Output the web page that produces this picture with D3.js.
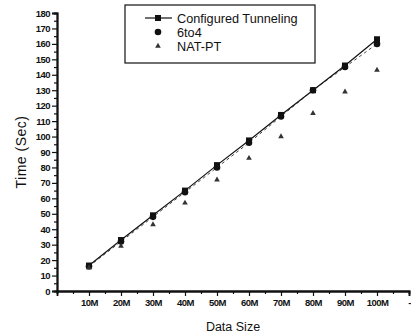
<!DOCTYPE html>
<html>
<head>
<meta charset="utf-8">
<script src="https://cdn.jsdelivr.net/npm/d3@7"></script>
<style>
  html, body { margin: 0; padding: 0; background: #fff; }
  svg { display: block; font-family: "Liberation Sans", Arial, sans-serif; }
</style>
</head>
<body>
<div id="chart"></div>
<script>
// data
const categories = ["10M", "20M", "30M", "40M", "50M", "60M", "70M", "80M", "90M", "100M"]
const tunneling = [16.5, 33, 49, 65, 81.5, 97.5, 114, 130, 146, 163]
const sixToFour = [16, 32, 48, 64, 80, 96, 113, 130, 145, 160]
const natPt = [15, 29, 43, 57, 72, 86, 100, 115, 129, 143]
const yTicks = [0, 10, 20, 30, 40, 50, 60, 70, 80, 90, 100, 110, 120, 130, 140, 150, 160, 170, 180]
const seriesNames = ["Configured Tunneling", "6to4", "NAT-PT"]

const width = 411, height = 333
const margin = { top: 13, right: 2, bottom: 42, left: 57 }
const innerW = width - margin.left - margin.right
const innerH = height - margin.top - margin.bottom

const svg = d3.select("#chart").append("svg")
  .attr("width", width).attr("height", height)

const g = svg.append("g").attr("transform", `translate(${margin.left},${margin.top})`)

// x is an index scale: 0 = origin, 1..10 = data sizes, 11 = trailing "-" tick
const x = d3.scaleLinear().domain([0, 11]).range([0, innerW])
const y = d3.scaleLinear().domain([0, 180]).range([innerH, 0])

const xLabels = [...categories, "-"]

// axes
const yAxis = d3.axisLeft(y).tickValues(yTicks).tickSize(5).tickPadding(2)
const yMinor = d3.axisLeft(y).tickValues(yTicks.slice(0, -1).map(v => v + 5)).tickSize(3).tickFormat("")
const xAxis = d3.axisBottom(x).tickValues(d3.range(1, 12)).tickSize(5).tickPadding(3)
  .tickFormat(i => xLabels[i - 1])
const xMinor = d3.axisBottom(x).tickValues(d3.range(0.5, 11, 1)).tickSize(3).tickFormat("")

g.append("g").call(yMinor)
g.append("g").call(yAxis)
g.append("g").attr("transform", `translate(0,${innerH})`).call(xMinor)
g.append("g").attr("transform", `translate(0,${innerH})`).call(xAxis)

g.selectAll(".domain").attr("stroke", "#111").attr("stroke-width", 1.8)
g.selectAll(".tick line").attr("stroke", "#111").attr("stroke-width", 1.2)
g.selectAll(".tick text").attr("fill", "#111").attr("font-size", "9.5px").attr("font-weight", "bold")
  .attr("letter-spacing", "-0.5px")

// axis titles
svg.append("text")
  .attr("x", margin.left + x(5.5)).attr("y", 331)
  .attr("text-anchor", "middle").attr("font-size", "12.5px").attr("fill", "#111")
  .text("Data Size")

svg.append("text")
  .attr("transform", `translate(26,${margin.top + y(90)}) rotate(-90)`)
  .attr("text-anchor", "middle").attr("font-size", "14px").attr("fill", "#111")
  .attr("letter-spacing", "0.5px")
  .text("Time (Sec)")

// lines
const line = d3.line().x((d, i) => x(i + 1)).y(d => y(d))
g.append("path").datum(sixToFour).attr("d", line)
  .attr("fill", "none").attr("stroke", "#444").attr("stroke-width", 1).attr("stroke-dasharray", "3,3")
g.append("path").datum(tunneling).attr("d", line)
  .attr("fill", "none").attr("stroke", "#111").attr("stroke-width", 1.2)

// markers
g.selectAll("circle.six")
  .data(sixToFour).enter().append("circle")
  .attr("class", "six")
  .attr("cx", (d, i) => x(i + 1)).attr("cy", d => y(d))
  .attr("r", 3.3).attr("fill", "#111")

g.selectAll("rect.tun")
  .data(tunneling).enter().append("rect")
  .attr("class", "tun")
  .attr("x", (d, i) => x(i + 1) - 3).attr("y", d => y(d) - 3)
  .attr("width", 6).attr("height", 6).attr("fill", "#111")

const tri = d3.symbol().type(d3.symbolTriangle).size(14)
g.selectAll("path.nat")
  .data(natPt).enter().append("path")
  .attr("class", "nat")
  .attr("transform", (d, i) => `translate(${x(i + 1)},${y(d)})`)
  .attr("d", tri).attr("fill", "#333")

// legend
const leg = svg.append("g").attr("transform", "translate(125,5)")
leg.append("rect").attr("width", 190).attr("height", 58)
  .attr("fill", "#fff").attr("stroke", "#111").attr("stroke-width", 1.2)

const rowY = [13, 27, 41]
leg.append("line").attr("x1", 20).attr("x2", 47).attr("y1", rowY[0]).attr("y2", rowY[0])
  .attr("stroke", "#111").attr("stroke-width", 1.2)
leg.append("rect").attr("x", 30).attr("y", rowY[0] - 3).attr("width", 6).attr("height", 6).attr("fill", "#111")
leg.append("circle").attr("cx", 33).attr("cy", rowY[1]).attr("r", 3.3).attr("fill", "#111")
leg.append("path").attr("transform", `translate(33,${rowY[2]})`).attr("d", tri).attr("fill", "#333")

leg.selectAll("text.lab")
  .data(seriesNames).enter().append("text")
  .attr("class", "lab")
  .attr("x", 52).attr("y", (d, i) => rowY[i] + 4.5)
  .attr("font-size", "12.7px").attr("fill", "#111")
  .text(d => d)
</script>
</body>
</html>
